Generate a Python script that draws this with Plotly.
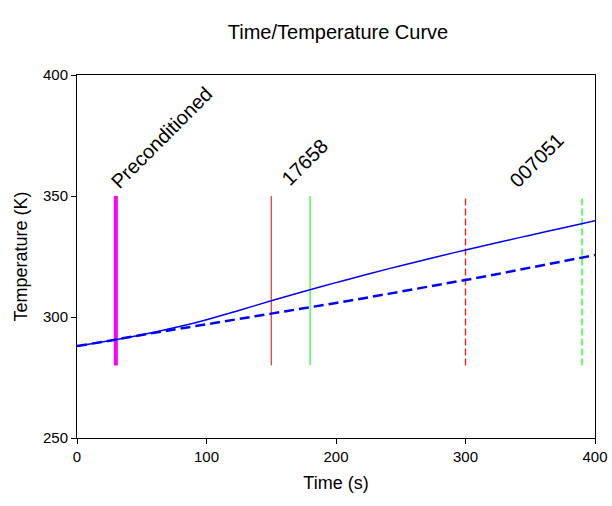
import plotly.graph_objects as go

# Temperature curves
time_s = [0, 25, 50, 75, 100, 125, 150, 175, 200, 225, 250, 275, 300, 325, 350, 375, 400]
temp_solid = [288, 290.2, 292.7, 295.6, 298.9, 302.7, 306.7, 310.5, 314.2, 317.8, 321.2, 324.5, 327.7,
              330.8, 333.8, 336.8, 339.8]
temp_dashed = [288, 290.2, 292.6, 294.8, 297, 299.2, 301.4, 303.6, 305.8, 308.1, 310.5, 312.9,
               315.3, 317.8, 320.4, 323, 325.6]

# Vertical marker lines
marker_x = [30, 150, 180, 300, 390]
marker_y = [280, 350]
marker_color = ['#FF00FF', '#FF0000', '#00FF00', '#FF2020', '#00FF00']
marker_width = [4, 1, 1, 1.4, 1.2]
marker_dash = ['solid', 'solid', 'solid', '7px,3px', '7px,3px']

# Rotated labels
label_text = ['Preconditioned', '17658', '007051']
label_x = [65, 176, 355]
label_y = [374, 364, 365]

fig = go.Figure()

for x, c, w, d in zip(marker_x, marker_color, marker_width, marker_dash):
    fig.add_trace(go.Scatter(x=[x, x], y=marker_y, mode='lines',
                             line=dict(color=c, width=w, dash=d), hoverinfo='skip'))

fig.add_trace(go.Scatter(x=time_s, y=temp_solid, mode='lines',
                         line=dict(color='#0000FF', width=1.5, shape='spline')))
fig.add_trace(go.Scatter(x=time_s, y=temp_dashed, mode='lines',
                         line=dict(color='#0000FF', width=2.5, dash='10px,5px', shape='spline')))

for t, x, y in zip(label_text, label_x, label_y):
    fig.add_annotation(x=x, y=y, text=t, showarrow=False, textangle=-45,
                       font=dict(size=20, color='black'))

fig.update_layout(
    width=612, height=506,
    margin=dict(l=77, r=17, t=75, b=68, autoexpand=False),
    paper_bgcolor='white', plot_bgcolor='white',
    showlegend=False,
    font=dict(family='Liberation Sans, Arial, sans-serif', color='black'),
    title=dict(text='Time/Temperature Curve', x=338 / 612, xanchor='center',
               y=1 - 32 / 506, yanchor='middle', font=dict(size=20)),
)

fig.update_xaxes(range=[0, 400], tickvals=[0, 100, 200, 300, 400], showgrid=False, zeroline=False,
                 showline=True, linecolor='black', linewidth=1, mirror=True, automargin=False,
                 ticks='outside', ticklen=5, tickcolor='black', tickfont=dict(size=15),
                 title=dict(text='Time (s)', font=dict(size=18), standoff=12))
fig.update_yaxes(range=[250, 400], tickvals=[250, 300, 350, 400], showgrid=False, zeroline=False,
                 showline=True, linecolor='black', linewidth=1, mirror=True, automargin=False,
                 ticks='outside', ticklen=5, tickcolor='black', tickfont=dict(size=15),
                 title=dict(text='Temperature (K)', font=dict(size=18), standoff=10))

# drop the default 8px page margin so the figure fills the window exactly
fig.write_html("out.html", config={'displayModeBar': False},
               post_script="document.body.style.margin='0';")
